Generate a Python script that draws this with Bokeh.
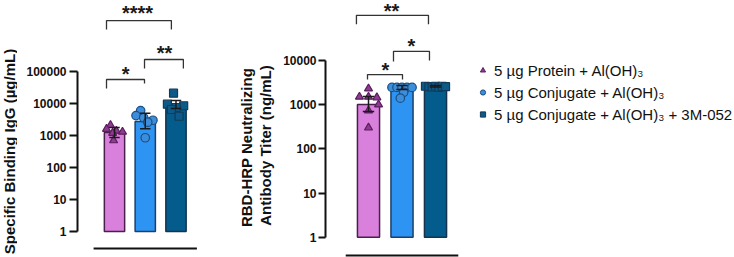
import math
from bokeh.plotting import figure
from bokeh.layouts import row
from bokeh.models import (Range1d, FixedTicker, NumeralTickFormatter,
                          Legend, LegendItem)
from bokeh.core.properties import value
from bokeh.embed import file_html
from bokeh.resources import INLINE

# ---------------- data ----------------
groups = ["5 µg Protein + Al(OH)₃", "5 µg Conjugate + Al(OH)₃",
          "5 µg Conjugate + Al(OH)₃ + 3M-052"]

# Panel A: Specific binding IgG (µg/mL)
igg_title = "Specific Binding IgG (µg/mL)"
igg_bar = [1250, 2750, 9300]
igg_err_lo = [870, 1620, 7000]
igg_err_hi = [1780, 4970, 12400]
igg_g1 = [2100, 1600, 1400, 1300, 1200, 700]
igg_g2 = [6000, 4200, 3600, 3000, 2600, 850]
igg_g3 = [21000, 9500, 8500, 7500, 6500, 4000]

# Panel B: RBD-HRP neutralizing antibody titer (ng/mL)
nab_title = ["RBD-HRP Neutralizing", "Antibody Titer (ng/mL)"]
nab_bar = [1000, 2500, 2600]
nab_err_lo = [700, 2200, 2500]
nab_err_hi = [1520, 2700, 2700]
nab_g1 = [2300, 1500, 1500, 1450, 1000, 730, 300]
nab_g2 = [2450, 2450, 2450, 2450, 2450, 1900, 1400]
nab_g3 = [2600, 2550, 2500, 2600, 2450, 2600, 2550]

igg_ticks = [1, 10, 100, 1000, 10000, 100000]
nab_ticks = [1, 10, 100, 1000, 10000]

# significance: (group_i, group_j, label)
igg_sig = [(1, 2, "*"), (2, 3, "**"), (1, 3, "****")]
nab_sig = [(1, 2, "*"), (2, 3, "*"), (1, 3, "**")]

# ---------------- layout / style ----------------
FONT = "Liberation Sans"
bar_fill = ["#D980DC", "#2D94F3", "#045C8D"]
bar_line = ["#4A1F4E", "#1E3F66", "#16324D"]
pt_fill = ["#8E3B91", "#3C8DDA", "#0B5A88"]
pt_line = ["#5A1E5E", "#1B4F82", "#123B5A"]
markers = ["triangle", "circle", "square"]
xs = [1, 2, 3]

igg_jit = [[-0.13, -0.26, 0.06, 0.26, -0.06, -0.03],
           [-0.15, -0.30, -0.05, 0.25, 0.08, 0.0],
           [-0.08, -0.28, 0.25, 0.0, -0.15, 0.10]]
nab_jit = [[0.0, -0.27, 0.0, 0.25, 0.30, 0.0, 0.0],
           [-0.30, -0.15, 0.0, 0.15, 0.30, 0.05, -0.05],
           [-0.30, -0.20, -0.10, 0.0, 0.10, 0.20, 0.30]]

# bracket geometry (x ends, top, leg bottoms, label pos) in log10 units
igg_br = [(0.74, 1.976, 4.75, 4.47, 4.625, 1.36, 5.09),
          (1.976, 3.24, 5.375, 5.09, 5.09, 2.63, 5.75),
          (0.74, 2.85, 6.59, 6.31, 6.31, 1.75, 6.97)]
nab_br = [(0.97, 2.015, 3.68, 3.57, 3.57, 1.507, 3.886),
          (1.746, 2.82, 4.205, 3.977, 4.00, 2.28, 4.43),
          (0.64, 2.79, 5.02, 4.82, 4.82, 1.687, 5.227)]


def label_fig(width, texts):
    """Narrow figure holding rotated y-axis titles (pixel data space)."""
    f = figure(width=width, height=257, output_backend="svg",
               toolbar_location=None, x_axis_location=None,
               y_axis_location=None, x_range=Range1d(0, width),
               y_range=Range1d(257, 0), min_border=0)
    f.outline_line_color = None
    f.grid.visible = False
    for txt, cx, cy in texts:
        f.text(x=[cx], y=[cy], text=[txt], angle=math.pi / 2,
               text_align="center", text_baseline="middle",
               text_font=value(FONT), text_font_style="bold",
               text_font_size="15px", text_color="#111111")
    return f


def make_panel(width, border_left, xr, yr, ticks, bars, lo, hi, pts, jit,
               brs, sigs, base_line, tick_out, standoff):
    p = figure(width=width, height=257, output_backend="svg",
               toolbar_location=None, x_axis_location=None,
               y_axis_type="log", x_range=Range1d(*xr),
               y_range=Range1d(10 ** yr[0], 10 ** yr[1]),
               min_border_left=border_left, min_border_right=0,
               min_border_top=0, min_border_bottom=0)
    p.outline_line_color = None
    p.grid.visible = False
    ax = p.yaxis[0]
    ax.ticker = FixedTicker(ticks=ticks, minor_ticks=[])
    ax.formatter = NumeralTickFormatter(format="0")
    ax.bounds = (ticks[0], ticks[-1])
    ax.axis_line_width = 2
    ax.axis_line_color = "#111111"
    ax.major_tick_line_width = 2
    ax.major_tick_line_color = "#111111"
    ax.major_tick_out = tick_out
    ax.major_tick_in = 0
    ax.minor_tick_line_color = None
    ax.major_label_standoff = standoff
    ax.major_label_text_font = FONT
    ax.major_label_text_font_style = "bold"
    ax.major_label_text_font_size = "12px"
    ax.major_label_text_color = "#111111"

    p.vbar(x=xs, top=bars, bottom=1, width=0.66, fill_color=bar_fill,
           line_color=bar_line, line_width=1.5)
    for i in range(3):
        px = [xs[i] + j for j in jit[i]]
        p.scatter(x=px, y=pts[i], marker=markers[i],
                  size=8 if i != 1 else 8.5,
                  fill_color=pt_fill[i], line_color=pt_line[i],
                  line_width=1.2)
    cw = 0.17
    p.segment(x0=xs, x1=xs, y0=lo, y1=hi, line_color="#1a1a1a", line_width=1.5)
    p.segment(x0=[x - cw for x in xs], x1=[x + cw for x in xs], y0=hi, y1=hi,
              line_color="#1a1a1a", line_width=1.5)
    p.segment(x0=[x - cw for x in xs], x1=[x + cw for x in xs], y0=lo, y1=lo,
              line_color="#1a1a1a", line_width=1.5)
    for (xa, xb, top, la, lb, tx, ty), (_, _, lab) in zip(brs, sigs):
        p.line(x=[xa, xa, xb, xb], y=[10 ** la, 10 ** top, 10 ** top, 10 ** lb],
               line_color="#333333", line_width=1.3)
        p.text(x=[tx], y=[10 ** ty], text=[lab], text_align="center",
               text_baseline="middle", text_font=value(FONT),
               text_font_style="bold", text_font_size="20px",
               text_color="#1a1a1a", y_offset=5)
    p.segment(x0=[xs[0] - 0.68], x1=[xs[-1] + 0.68], y0=[10 ** base_line],
              y1=[10 ** base_line], line_color="#111111", line_width=2)
    return p


lab1 = label_fig(17, [(igg_title, 8.5, 151)])
p1 = make_panel(218, 60, (-0.2033, 4.935), (-0.8125, 7.21875), igg_ticks,
                igg_bar, igg_err_lo, igg_err_hi, [igg_g1, igg_g2, igg_g3],
                igg_jit, igg_br, igg_sig, -0.531, 8, 3)
lab2 = label_fig(40, [(nab_title[0], 11, 147), (nab_title[1], 30, 145)])
p2 = make_panel(459, 50, (-0.2836, 11.925), (-0.459, 5.355), nab_ticks,
                nab_bar, nab_err_lo, nab_err_hi, [nab_g1, nab_g2, nab_g3],
                nab_jit, nab_br, nab_sig, -0.414, 7, 2)

# legend: key renderers hold no visible point (NaN), only their marker style
nan = float("nan")
items = []
for i in range(3):
    r = p2.scatter(x=[nan], y=[nan], marker=markers[i],
                   fill_color=pt_fill[i], line_color=pt_line[i], line_width=1)
    items.append(LegendItem(label=groups[i], renderers=[r]))
leg = Legend(items=items, location=(151, 133), orientation="vertical",
             label_text_font=FONT, label_text_font_size="15px",
             label_text_color="#111111", glyph_width=13, glyph_height=20,
             label_height=20, spacing=2, padding=0, margin=0,
             label_standoff=5, border_line_color=None,
             background_fill_alpha=0)
p2.add_layout(leg)

layout = row(lab1, p1, lab2, p2)
open("out.html", "w").write(file_html(layout, INLINE))
